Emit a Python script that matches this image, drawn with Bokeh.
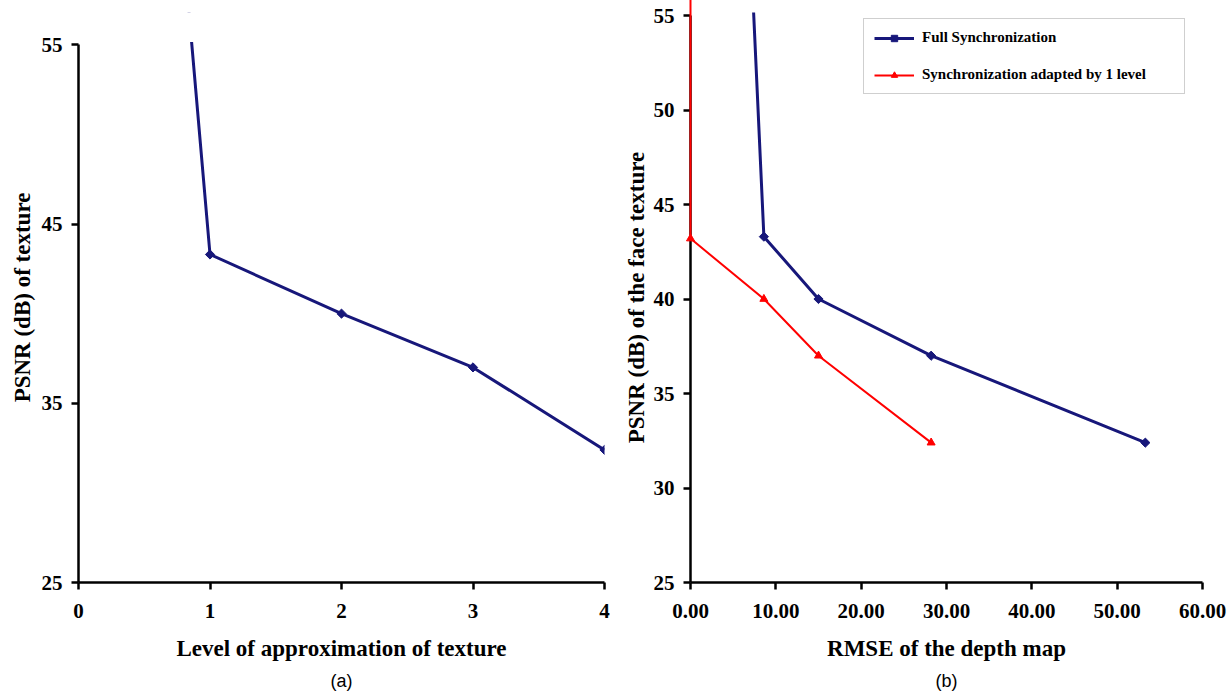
import math
from bokeh.plotting import figure
from bokeh.models import Range1d, FixedTicker, PrintfTickFormatter, Title, Legend, BoxAnnotation
from bokeh.layouts import row
from bokeh.embed import file_html
from bokeh.resources import INLINE

# ---- data ----
level = [0, 1, 2, 3, 4]
psnr_texture = [128.0, 43.3, 40.0, 37.0, 32.4]

rmse_full = [0.0, 8.6, 15.0, 28.2, 53.3]
psnr_full = [128.0, 43.3, 40.0, 37.0, 32.4]

rmse_adapted = [0.0, 0.0, 8.6, 15.0, 28.2]
psnr_adapted = [128.0, 43.2, 40.0, 37.0, 32.4]

left_x_ticks = [0, 1, 2, 3, 4]
left_y_ticks = [25, 35, 45, 55]
right_x_ticks = [0, 10, 20, 30, 40, 50, 60]
right_y_ticks = [25, 30, 35, 40, 45, 50, 55]

NAVY = "#17177a"
RED = "#ff0000"
SERIF = "Liberation Serif"
H = 695


def style(p, xticks, yticks, xlab, ylab, xfmt=None, ylab_standoff=4):
    p.outline_line_color = None
    p.xgrid.visible = False
    p.ygrid.visible = False
    p.background_fill_color = "white"
    p.border_fill_color = "white"
    for ax in (p.xaxis[0], p.yaxis[0]):
        ax.axis_line_color = "black"
        ax.axis_line_width = 2.5
        ax.major_tick_line_color = "black"
        ax.major_tick_line_width = 2.5
        ax.major_tick_in = 0
        ax.major_tick_out = 7
        ax.minor_tick_line_color = None
        ax.major_label_text_font = SERIF
        ax.major_label_text_font_style = "bold"
        ax.major_label_text_font_size = "21px"
        ax.major_label_text_color = "black"
        ax.axis_label_text_font = SERIF
        ax.axis_label_text_font_style = "bold"
        ax.axis_label_text_font_size = "23px"
        ax.axis_label_text_color = "black"
    p.xaxis[0].ticker = FixedTicker(ticks=xticks)
    p.yaxis[0].ticker = FixedTicker(ticks=yticks)
    p.yaxis[0].bounds = (min(yticks), max(yticks))
    p.xaxis[0].axis_label = xlab
    p.yaxis[0].axis_label = ylab
    p.xaxis[0].major_label_standoff = 14
    p.yaxis[0].major_label_standoff = 9
    p.xaxis[0].axis_label_standoff = 15
    p.yaxis[0].axis_label_standoff = ylab_standoff
    if xfmt:
        p.xaxis[0].formatter = PrintfTickFormatter(format=xfmt)


def caption(p, text):
    p.add_layout(Title(text=text, align="center", text_font="Liberation Sans",
                       text_font_size="18px", text_font_style="normal", text_color="black",
                       standoff=10), "below")


# ---- left chart (a) ----
p1 = figure(width=620, height=H, output_backend="svg", toolbar_location=None,
            x_range=Range1d(0, 4), y_range=Range1d(25, 56.8),
            min_border_left=78, min_border_right=16, min_border_top=12, min_border_bottom=111)
style(p1, left_x_ticks, left_y_ticks, "Level of approximation of texture", "PSNR (dB) of texture",
      ylab_standoff=4)
p1.line(level, psnr_texture, line_color=NAVY, line_width=3)
p1.scatter(level[1:], psnr_texture[1:], marker="square", size=6.5, angle=math.pi / 4,
           fill_color=NAVY, line_color=NAVY)
# plot area of the original chart ends just above 55
p1.add_layout(BoxAnnotation(bottom=55.24, fill_color="white", fill_alpha=1.0,
                            line_color="white", line_alpha=1.0, line_width=3))
caption(p1, "(a)")

# ---- right chart (b) ----
p2 = figure(width=610, height=H, output_backend="svg", toolbar_location=None,
            x_range=Range1d(0, 60), y_range=Range1d(25, 55.16),
            min_border_left=70, min_border_right=28, min_border_top=12, min_border_bottom=111)
style(p2, right_x_ticks, right_y_ticks, "RMSE of the depth map", "PSNR (dB) of the face texture",
      xfmt="%.2f", ylab_standoff=2)
l_full = p2.line(rmse_full, psnr_full, line_color=NAVY, line_width=3)
s_full = p2.scatter(rmse_full[1:], psnr_full[1:], marker="square", size=6.5, angle=math.pi / 4,
                    fill_color=NAVY, line_color=NAVY)
l_ad = p2.line(rmse_adapted, psnr_adapted, line_color=RED, line_width=2, level="overlay")
s_ad = p2.scatter(rmse_adapted[1:], psnr_adapted[1:], marker="triangle", size=8,
                  fill_color=RED, line_color=RED, level="overlay")

legend = Legend(items=[("Full Synchronization", [l_full, s_full]),
                       ("Synchronization adapted by 1 level", [l_ad, s_ad])],
                location=(173, 488))
legend.border_line_color = "#a0a0a0"
legend.border_line_width = 1.5
legend.background_fill_color = "white"
legend.padding = 10
legend.margin = 0
legend.spacing = 20
legend.glyph_width = 40
legend.glyph_height = 16
legend.label_height = 16
legend.label_width = 252
legend.label_standoff = 8
legend.label_text_font = SERIF
legend.label_text_font_style = "bold"
legend.label_text_font_size = "15px"
legend.label_text_color = "black"
p2.add_layout(legend, "center")
caption(p2, "(b)")

layout = row(p1, p2, spacing=0)
open("out.html", "w").write(file_html(layout, INLINE))
